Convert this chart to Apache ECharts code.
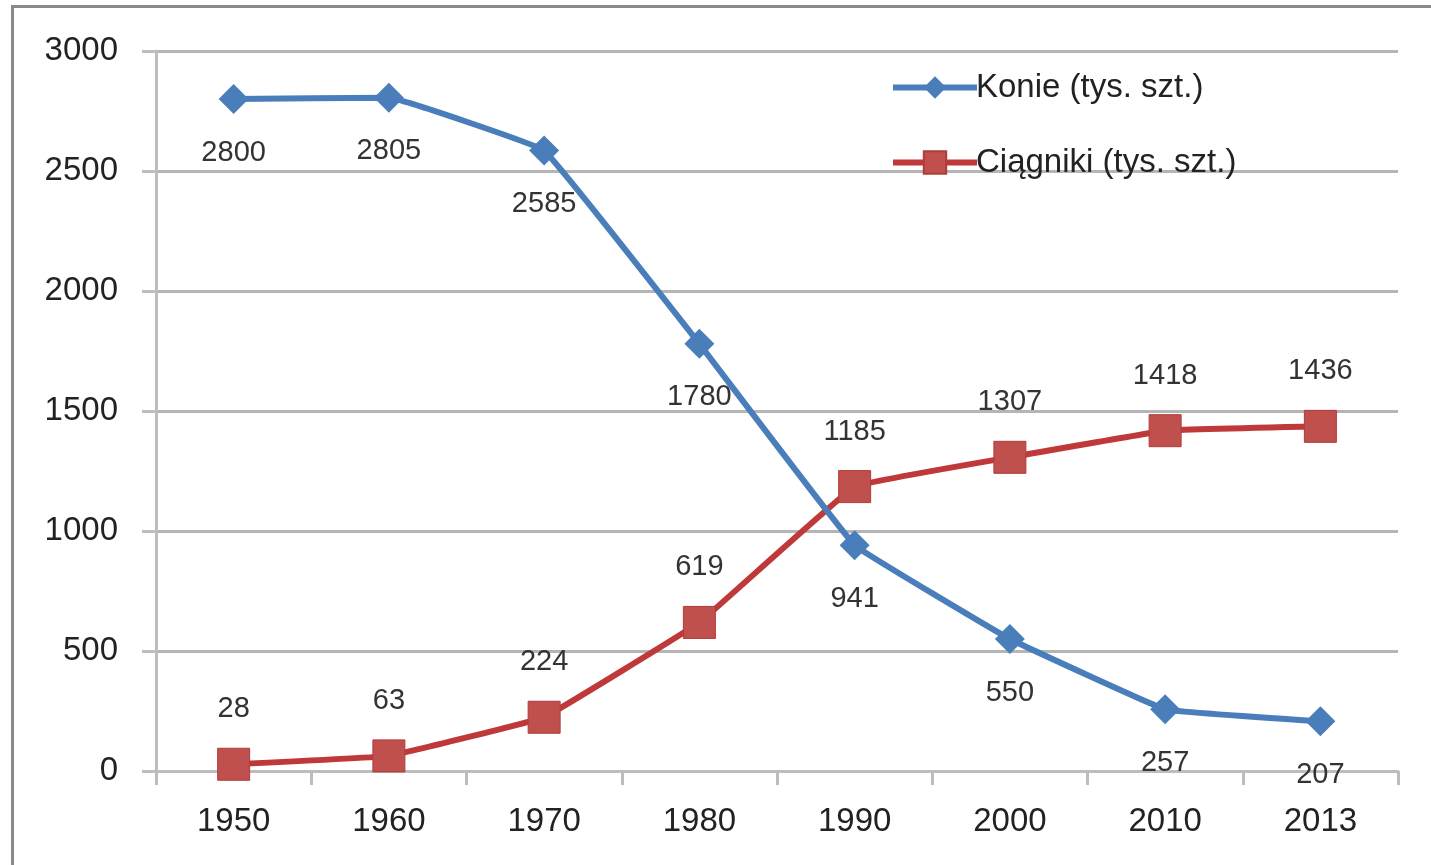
<!DOCTYPE html>
<html lang="pl">
<head>
<meta charset="utf-8">
<script src="https://cdn.jsdelivr.net/npm/echarts@6/dist/echarts.min.js"></script>
<style>
  html, body { margin: 0; padding: 0; background: #fff; }
  #chartMain { position: absolute; left: 0; top: 0; width: 1431px; height: 865px; }
  #frame { position: absolute; left: 11px; top: 5px; width: 1431px; height: 870px;
           border-top: 3px solid #8a8a8a; border-left: 3px solid #8a8a8a; pointer-events: none; }
</style>
</head>
<body>
<div id="chartMain"></div>
<div id="frame"></div>
<script>
    // dane
    var lata = ['1950', '1960', '1970', '1980', '1990', '2000', '2010', '2013'];
    var konie = [2800, 2805, 2585, 1780, 941, 550, 257, 207];
    var ciagniki = [28, 63, 224, 619, 1185, 1307, 1418, 1436];
    var yTicks = [0, 500, 1000, 1500, 2000, 2500, 3000];

    var font = '"Liberation Sans", Arial, sans-serif';
    var myChart = echarts.init(document.getElementById('chartMain'));

    myChart.setOption({
        animation: false,
        backgroundColor: '#ffffff',
        textStyle: { fontFamily: font },
        grid: { left: 156, right: 33, top: 51, bottom: 94 },
        legend: {
            orient: 'vertical',
            left: 885,
            top: 66,
            itemWidth: 84,
            itemHeight: 28,
            itemGap: 42,
            lineStyle: { width: 6 },
            textStyle: { fontSize: 33, color: '#222', fontFamily: font, padding: [0, 0, 0, -6] },
            data: ['Konie (tys. szt.)', 'Ciągniki (tys. szt.)']
        },
        xAxis: {
            type: 'category',
            data: lata,
            boundaryGap: true,
            axisLine: { lineStyle: { color: '#bdbdbd', width: 3 } },
            axisTick: { show: true, length: 14, lineStyle: { color: '#bdbdbd', width: 3 } },
            axisLabel: { fontSize: 33, color: '#222', margin: 34 }
        },
        yAxis: {
            type: 'value',
            min: yTicks[0],
            max: yTicks[yTicks.length - 1],
            interval: 500,
            axisLine: { show: true, lineStyle: { color: '#bdbdbd', width: 3 } },
            axisTick: { show: true, length: 14, lineStyle: { color: '#bdbdbd', width: 3 } },
            axisLabel: { fontSize: 33, color: '#222', margin: 38, formatter: function (v) { return String(v); } },
            splitLine: { lineStyle: { color: '#b5b5b5', width: 3 } }
        },
        series: [
            {
                name: 'Konie (tys. szt.)',
                type: 'line',
                data: konie,
                smooth: 0.06,
                symbol: 'diamond',
                symbolSize: 30,
                itemStyle: { color: '#4a7ebb' },
                lineStyle: { color: '#4a7ebb', width: 6 },
                label: { show: true, position: 'bottom', distance: 24, fontSize: 29, color: '#333' },
                z: 3
            },
            {
                name: 'Ciągniki (tys. szt.)',
                type: 'line',
                data: ciagniki,
                smooth: 0.06,
                symbol: 'rect',
                symbolSize: 32,
                itemStyle: { color: '#c0504d', borderColor: '#b03c39', borderWidth: 1 },
                lineStyle: { color: '#c0393a', width: 6 },
                label: { show: true, position: 'top', distance: 24, fontSize: 29, color: '#333' },
                z: 2
            }
        ]
    });
</script>
</body>
</html>
